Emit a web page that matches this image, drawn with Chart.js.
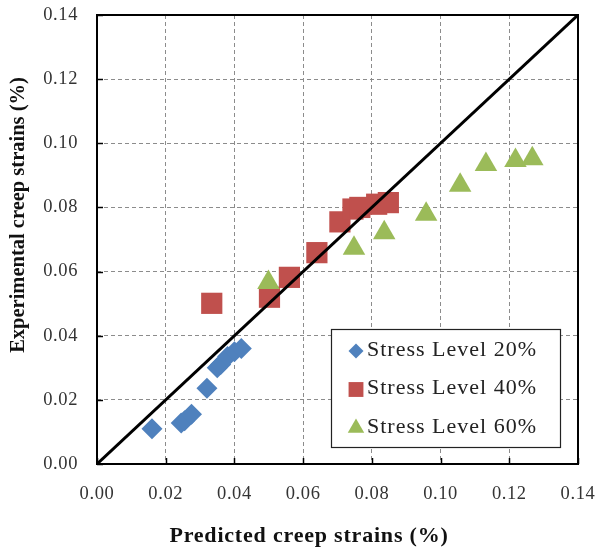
<!DOCTYPE html>
<html>
<head>
<meta charset="utf-8">
<script src="https://cdn.jsdelivr.net/npm/chart.js@4.4.1/dist/chart.umd.min.js"></script>
<style>
  html, body { margin: 0; padding: 0; background: #fff; }
  #wrap { width: 600px; height: 552px; position: relative; }
</style>
</head>
<body>
<div id="wrap"><canvas id="myChart"></canvas></div>
<script>
// values (predicted, experimental) in %
var s20x = [0.016, 0.0245, 0.0255, 0.0275, 0.032, 0.035, 0.036, 0.038, 0.040, 0.042];
var s20y = [0.011, 0.0128, 0.0135, 0.0155, 0.0236, 0.030, 0.031, 0.0335, 0.035, 0.036];
var s40x = [0.0334, 0.0502, 0.056, 0.064, 0.0707, 0.0745, 0.0765, 0.0814, 0.0848];
var s40y = [0.0501, 0.052, 0.0582, 0.0659, 0.0755, 0.0795, 0.080, 0.081, 0.0815];
var s60x = [0.0499, 0.0748, 0.0836, 0.0958, 0.1057, 0.1132, 0.1218, 0.1267];
var s60y = [0.0566, 0.0673, 0.0721, 0.0779, 0.0869, 0.0934, 0.0946, 0.0952];
var lineX = [0, 0.14];
var lineY = [0, 0.14];
var tickVals = [0, 0.02, 0.04, 0.06, 0.08, 0.10, 0.12, 0.14];
var seriesNames = ["Stress Level 20%", "Stress Level 40%", "Stress Level 60%"];

function pts(xs, ys){
    return xs.map(function(x, i){ return {x: x, y: ys[i]}; });
}

var serif = "'Liberation Serif', 'Times New Roman', serif";

function noPad(s){
    s.paddingLeft = 0; s.paddingRight = 0;
    s.paddingTop = 0; s.paddingBottom = 0;
}

// frame, inward ticks, axis titles and the boxed legend
var extras = {
    id: "extras",
    beforeDraw: function(chart){
        // the source picture is a bit stretched sideways, widen the tick text
        chart.ctx.letterSpacing = "0.6px";
    },
    afterDatasetsDraw: function(chart){
        var ctx = chart.ctx;
        var a = chart.chartArea;
        var xs = chart.scales.x, ys = chart.scales.y;
        ctx.save();
        ctx.strokeStyle = "#000";
        ctx.lineWidth = 2;
        ctx.strokeRect(a.left, a.top, a.right - a.left, a.bottom - a.top);
        ctx.lineWidth = 1.5;
        tickVals.forEach(function(v){
            var px = Math.round(xs.getPixelForValue(v)) + 0.5;
            ctx.beginPath(); ctx.moveTo(px, a.bottom); ctx.lineTo(px, a.bottom - 6); ctx.stroke();
            var py = Math.round(ys.getPixelForValue(v)) + 0.5;
            ctx.beginPath(); ctx.moveTo(a.left, py); ctx.lineTo(a.left + 6, py); ctx.stroke();
        });

        // axis titles
        ctx.fillStyle = "#111";
        ctx.font = "bold 22px " + serif;
        ctx.letterSpacing = "0.8px";
        ctx.textAlign = "center";
        ctx.textBaseline = "middle";
        ctx.fillText("Predicted creep strains (%)", 309, 536);
        ctx.letterSpacing = "0px";
        ctx.translate(19, 215);
        ctx.rotate(-Math.PI / 2);
        ctx.font = "bold 20.5px " + serif;
        ctx.fillText("Experimental creep strains (%)", 0, 0);
        ctx.setTransform(1, 0, 0, 1, 0, 0);

        // legend box
        var bx = 331, by = 329, bw = 229, bh = 118;
        ctx.fillStyle = "#fff";
        ctx.fillRect(bx, by, bw, bh);
        ctx.strokeStyle = "#222";
        ctx.lineWidth = 1.2;
        ctx.strokeRect(bx + 0.5, by + 0.5, bw, bh);
        var ds = chart.data.datasets;
        var rows = [ds[3], ds[2], ds[1]];
        var sizes = [7.5, 10.5, 9.5];
        ctx.font = "22px " + serif;
        ctx.letterSpacing = "1px";
        ctx.textAlign = "left";
        ctx.textBaseline = "middle";
        rows.forEach(function(d, i){
            var cy = 350 + i * 38.5;
            ctx.fillStyle = d.backgroundColor;
            ctx.strokeStyle = d.backgroundColor;
            Chart.helpers.drawPoint(ctx, {pointStyle: d.pointStyle, radius: sizes[i], rotation: 0, borderWidth: 0}, 356, cy + 1);
            ctx.fillStyle = "#222";
            ctx.fillText(seriesNames[i], 367, cy);
        });
        ctx.restore();
    }
};

new Chart("myChart", {
    type: "scatter",
    data: {
        datasets: [
            {
                type: "line",
                label: "1:1",
                data: pts(lineX, lineY),
                borderColor: "#000",
                borderWidth: 3,
                pointRadius: 0,
                fill: false,
                order: 0
            },
            {
                label: seriesNames[2],
                data: pts(s60x, s60y),
                pointStyle: "triangle",
                pointRadius: 13,
                backgroundColor: "#9BBB59",
                borderColor: "#9BBB59",
                borderWidth: 0,
                order: 1
            },
            {
                label: seriesNames[1],
                data: pts(s40x, s40y),
                pointStyle: "rect",
                pointRadius: 15,
                backgroundColor: "#C0504D",
                borderColor: "#C0504D",
                borderWidth: 0,
                order: 2
            },
            {
                label: seriesNames[0],
                data: pts(s20x, s20y),
                pointStyle: "rectRot",
                pointRadius: 10.5,
                backgroundColor: "#4F81BD",
                borderColor: "#4F81BD",
                borderWidth: 0,
                order: 3
            }
        ]
    },
    options: {
        responsive: true,
        maintainAspectRatio: false,
        animation: false,
        layout: { padding: { left: 0, top: 13, right: 22, bottom: 0 } },
        plugins: {
            legend: { display: false },
            tooltip: { enabled: false }
        },
        scales: {
            x: {
                type: "linear",
                min: 0, max: 0.14,
                afterBuildTicks: function(s){ s.ticks = tickVals.map(function(v){ return {value: v}; }); },
                afterFit: function(s){ s.height = 88; noPad(s); },
                grid: { color: "#8c8c8c", lineWidth: 1, drawTicks: false },
                border: { display: false, dash: [4, 3] },
                ticks: {
                    padding: 19,
                    color: "#333",
                    font: { family: serif, size: 18.5 },
                    callback: function(v){ return v.toFixed(2); }
                }
            },
            y: {
                type: "linear",
                min: 0, max: 0.14,
                afterBuildTicks: function(s){ s.ticks = tickVals.map(function(v){ return {value: v}; }); },
                afterFit: function(s){ s.width = 97; noPad(s); },
                grid: { color: "#8c8c8c", lineWidth: 1, drawTicks: false },
                border: { display: false, dash: [4, 3] },
                ticks: {
                    padding: 19,
                    color: "#333",
                    font: { family: serif, size: 18.5 },
                    callback: function(v){ return v.toFixed(2); }
                }
            }
        }
    },
    plugins: [extras]
});
</script>
</body>
</html>
